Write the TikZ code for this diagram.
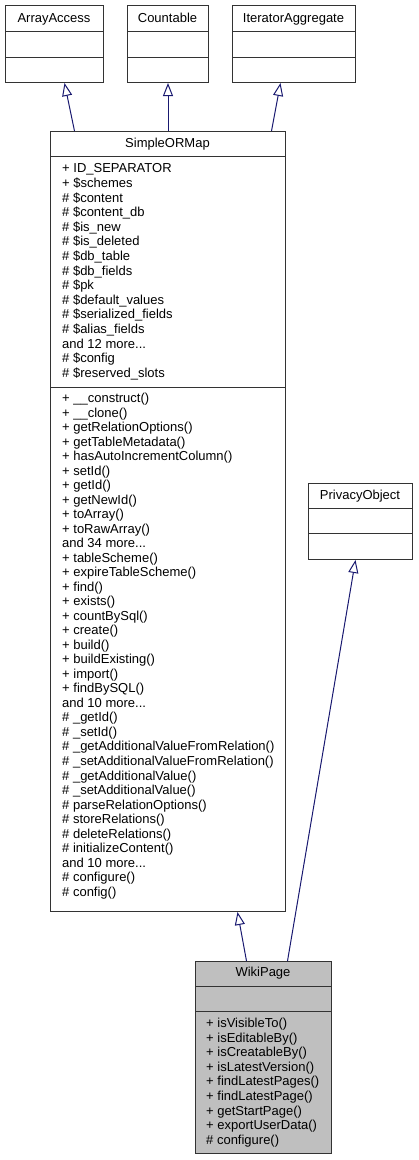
\documentclass[tikz,border=0pt]{standalone}
\usepackage{fontspec}
\setmainfont{Liberation Sans}
\usetikzlibrary{arrows.meta}
\definecolor{edgeblue}{HTML}{191970}
\definecolor{boxline}{HTML}{333333}
\definecolor{wikifill}{HTML}{BFBFBF}
\newcommand\mydots{...}
\begin{document}
\begin{tikzpicture}[x=1pt,y=-1pt,
  umlbox/.style={draw=boxline, line width=1pt, fill=white, inner sep=0pt, anchor=north west},
  sepline/.style={draw=boxline, line width=1pt},
  ttl/.style={inner sep=0pt, anchor=base, font=\fontsize{13}{15}\selectfont},
  mem/.style={inner sep=0pt, anchor=base west, font=\fontsize{13}{15}\selectfont},
  inh/.style={draw=edgeblue, line width=1pt, -{Triangle[open, length=13pt, width=10pt, fill=white]}}]
\useasboundingbox (0,0) rectangle (418,1160);

% ArrayAccess
\node[umlbox, minimum width=98pt, minimum height=77pt] (aa) at (5,5) {};
\draw[sepline] (5,31) -- (103,31) (5,57) -- (103,57);
\node[ttl] (aat) at (54,22) {ArrayAccess};

% Countable
\node[umlbox, minimum width=81pt, minimum height=77pt] (ct) at (127,5) {};
\draw[sepline] (127,31) -- (208,31) (127,57) -- (208,57);
\node[ttl] (ctt) at (167.5,22) {Countable};

% IteratorAggregate
\node[umlbox, minimum width=123pt, minimum height=77pt] (ia) at (232,5) {};
\draw[sepline] (232,31) -- (355,31) (232,57) -- (355,57);
\node[ttl] (iat) at (293.5,22) {IteratorAggregate};

% SimpleORMap
\node[umlbox, minimum width=235pt, minimum height=780pt] (sm) at (50,131) {};
\draw[sepline] (50,156) -- (285,156) (50,387) -- (285,387);
\node[ttl] (smt) at (167.5,147) {SimpleORMap};
\foreach \t [count=\i from 0] in {%
  + ID\_SEPARATOR, + \$schemes, \# \$content, \# \$content\_db, \# \$is\_new,
  \# \$is\_deleted, \# \$db\_table, \# \$db\_fields, \# \$pk, \# \$default\_values,
  \# \$serialized\_fields, \# \$alias\_fields, and 12 more\mydots, \# \$config,
  \# \$reserved\_slots}
  \node[mem] (sma\i) at (62,172.8+\i*14.6) {\t};
\foreach \t [count=\i from 0] in {%
  + \_\_construct(), + \_\_clone(), + getRelationOptions(), + getTableMetadata(),
  + hasAutoIncrementColumn(), + setId(), + getId(), + getNewId(), + toArray(),
  + toRawArray(), and 34 more\mydots, + tableScheme(), + expireTableScheme(), + find(),
  + exists(), + countBySql(), + create(), + build(), + buildExisting(), + import(),
  + findBySQL(), and 10 more\mydots, \# \_getId(), \# \_setId(),
  \# \_getAdditionalValueFromRelation(), \# \_setAdditionalValueFromRelation(),
  \# \_getAdditionalValue(), \# \_setAdditionalValue(), \# parseRelationOptions(),
  \# storeRelations(), \# deleteRelations(), \# initializeContent(),
  and 10 more\mydots, \# configure(), \# config()}
  \node[mem] (smm\i) at (62,402.5+\i*14.52) {\t};

% PrivacyObject
\node[umlbox, minimum width=104pt, minimum height=76pt] (po) at (308,483) {};
\draw[sepline] (308,508) -- (412,508) (308,533) -- (412,533);
\node[ttl] (pot) at (360,499.5) {PrivacyObject};

% WikiPage
\node[umlbox, fill=wikifill, minimum width=136pt, minimum height=192pt] (wp) at (195,961) {};
\draw[sepline] (195,986) -- (331,986) (195,1011) -- (331,1011);
\node[ttl] (wpt) at (263,976.5) {WikiPage};
\foreach \t [count=\i from 0] in {%
  + isVisibleTo(), + isEditableBy(), + isCreatableBy(), + isLatestVersion(),
  + findLatestPages(), + findLatestPage(), + getStartPage(), + exportUserData(),
  \# configure()}
  \node[mem] (wpm\i) at (206,1027.5+\i*14.6) {\t};

% connector end points
\coordinate (aa-in) at ([xshift=10pt]aa.south);
\coordinate (ct-in) at (ct.south);
\coordinate (ia-in) at ([xshift=-13.5pt]ia.south);
\coordinate (sm-o1) at ([xshift=-93.5pt]sm.north);
\coordinate (sm-o2) at (ct.south |- sm.north);
\coordinate (sm-o3) at ([xshift=103.5pt]sm.north);
\coordinate (sm-in) at ([xshift=69.5pt]sm.south);
\coordinate (po-in) at ([xshift=-5pt]po.south);
\coordinate (wp-o1) at ([xshift=-17pt]wp.north);
\coordinate (wp-o2) at ([xshift=24pt]wp.north);

\draw[inh] (sm-o1) -- (aa-in);
\draw[inh] (sm-o2) -- (ct-in);
\draw[inh] (sm-o3) -- (ia-in);
\draw[inh] (wp-o1) -- (sm-in);
\draw[inh] (wp-o2) -- (po-in);
\end{tikzpicture}
\end{document}
